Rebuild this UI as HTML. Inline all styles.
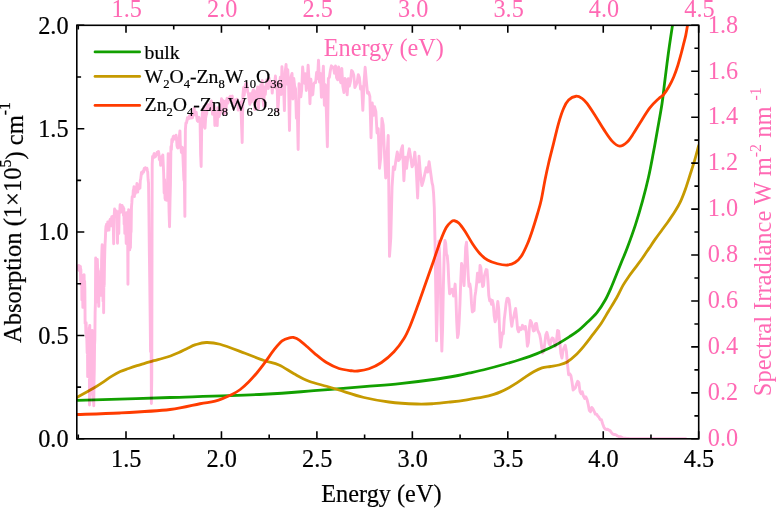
<!DOCTYPE html><html><head><meta charset="utf-8"><title>Absorption</title><style>html,body{margin:0;padding:0;background:#fff}</style></head><body><svg width="776" height="508" viewBox="0 0 776 508" style="display:block;font-family:'Liberation Serif',serif">
<style>text{stroke-width:.2px}text[fill="#ff69b4"]{stroke-width:0}</style>
<rect width="776" height="508" fill="#fff"/>
<defs><clipPath id="c"><rect x="76.8" y="25.3" width="621.9000000000001" height="413.5"/></clipPath></defs>
<g clip-path="url(#c)" fill="none" stroke-linejoin="round" stroke-linecap="round">
<path d="M77.50,400.30 C92.92,399.83 138.92,398.51 170.00,397.50 C201.08,396.49 240.00,395.38 264.00,394.25 C288.00,393.12 297.33,391.97 314.00,390.70 C330.67,389.43 349.67,387.78 364.00,386.60 C378.33,385.42 388.42,384.78 400.00,383.60 C411.58,382.42 423.83,380.85 433.50,379.50 C443.17,378.15 451.92,376.60 458.00,375.50 C464.08,374.40 465.21,373.98 470.00,372.90 C474.79,371.82 481.17,370.40 486.75,369.00 C492.33,367.60 497.92,366.08 503.50,364.50 C509.08,362.92 514.67,361.32 520.25,359.50 C525.83,357.68 531.42,355.83 537.00,353.60 C542.58,351.37 548.17,349.03 553.75,346.10 C559.33,343.17 566.31,338.66 570.50,336.00 C574.69,333.34 576.33,332.19 578.90,330.15 C581.47,328.11 582.92,326.62 585.90,323.75 C588.88,320.88 593.55,316.81 596.75,312.90 C599.95,308.99 602.59,304.77 605.10,300.30 C607.61,295.83 609.84,290.52 611.80,286.05 C613.76,281.58 615.17,277.68 616.85,273.50 C618.53,269.32 620.19,265.15 621.90,260.95 C623.61,256.75 624.83,254.36 627.10,248.30 C629.37,242.24 632.92,232.50 635.50,224.60 C638.08,216.70 640.38,208.78 642.55,200.90 C644.72,193.02 646.73,185.18 648.50,177.30 C650.27,169.42 651.71,161.48 653.20,153.60 C654.69,145.72 655.98,138.31 657.45,130.00 C658.92,121.69 660.83,111.47 662.00,103.75 C663.17,96.03 663.67,90.35 664.50,83.65 C665.33,76.95 666.17,69.97 667.00,63.55 C667.83,57.12 668.60,51.38 669.50,45.10 C670.40,38.83 671.60,31.25 672.40,25.90 C673.20,20.55 673.98,15.15 674.30,13.00" stroke="#12a000" stroke-width="2.8"/>
<path d="M76.70,397.50 C78.38,396.58 83.68,393.70 86.75,392.00 C89.82,390.30 92.31,388.98 95.10,387.30 C97.89,385.62 100.70,383.77 103.50,381.90 C106.30,380.03 109.11,377.83 111.90,376.10 C114.69,374.37 117.47,372.77 120.25,371.50 C123.03,370.23 125.81,369.47 128.60,368.50 C131.39,367.53 134.20,366.58 137.00,365.70 C139.80,364.82 142.61,364.04 145.40,363.20 C148.19,362.36 150.97,361.43 153.75,360.65 C156.53,359.87 159.31,359.27 162.10,358.50 C164.89,357.73 167.70,356.98 170.50,356.00 C173.30,355.02 176.11,353.87 178.90,352.60 C181.69,351.33 184.47,349.72 187.25,348.40 C190.03,347.08 192.43,345.68 195.60,344.70 C198.77,343.72 202.18,342.57 206.25,342.50 C210.32,342.43 213.54,342.46 220.00,344.25 C226.46,346.04 237.67,350.54 245.00,353.25 C252.33,355.96 258.33,358.54 264.00,360.50 C269.67,362.46 274.00,362.79 279.00,365.00 C284.00,367.21 289.00,371.04 294.00,373.75 C299.00,376.46 303.58,379.17 309.00,381.25 C314.42,383.33 321.50,384.79 326.50,386.25 C331.50,387.71 332.75,388.12 339.00,390.00 C345.25,391.88 355.67,395.50 364.00,397.50 C372.33,399.50 380.21,400.92 389.00,402.00 C397.79,403.08 409.33,403.73 416.75,404.00 C424.17,404.27 427.92,403.98 433.50,403.65 C439.08,403.32 444.67,402.64 450.25,402.00 C455.83,401.36 461.42,400.64 467.00,399.80 C472.58,398.96 479.28,397.85 483.75,396.95 C488.22,396.05 491.01,395.24 493.80,394.40 C496.59,393.56 497.98,393.02 500.50,391.90 C503.02,390.78 506.11,389.23 508.90,387.70 C511.69,386.17 514.52,384.47 517.25,382.70 C519.98,380.93 522.57,378.88 525.30,377.05 C528.03,375.22 530.87,373.23 533.65,371.70 C536.43,370.17 539.21,368.72 542.00,367.85 C544.79,366.98 547.60,366.98 550.40,366.50 C553.20,366.02 556.01,365.75 558.80,365.00 C561.59,364.25 564.37,363.62 567.15,362.00 C569.93,360.38 572.71,357.96 575.50,355.30 C578.29,352.64 581.10,349.40 583.90,346.05 C586.70,342.70 589.46,338.92 592.30,335.20 C595.14,331.48 598.25,327.75 600.95,323.75 C603.65,319.75 605.91,315.49 608.50,311.20 C611.09,306.91 614.08,302.30 616.50,298.00 C618.92,293.70 620.83,289.15 623.00,285.40 C625.17,281.65 627.33,278.60 629.50,275.50 C631.67,272.40 633.83,269.72 636.00,266.80 C638.17,263.88 640.33,261.07 642.50,258.00 C644.67,254.93 646.84,251.58 649.00,248.40 C651.16,245.22 653.29,241.97 655.45,238.90 C657.61,235.83 659.79,232.95 661.95,230.00 C664.11,227.05 666.24,224.27 668.40,221.20 C670.56,218.13 672.91,214.82 674.90,211.60 C676.89,208.38 678.62,205.58 680.35,201.90 C682.08,198.22 683.72,193.90 685.30,189.50 C686.88,185.10 688.31,180.30 689.85,175.50 C691.39,170.70 693.07,165.70 694.55,160.70 C696.02,155.70 698.01,148.03 698.70,145.50" stroke="#c69a00" stroke-width="2.8"/>
<path d="M77.50,414.50 C84.58,414.25 104.58,413.83 120.00,413.00 C135.42,412.17 156.67,411.04 170.00,409.50 C183.33,407.96 192.48,405.13 200.00,403.75 C207.52,402.37 209.78,402.74 215.10,401.20 C220.42,399.66 227.71,396.45 231.90,394.50 C236.09,392.55 237.47,391.58 240.25,389.50 C243.03,387.42 245.81,384.79 248.60,382.00 C251.39,379.21 254.20,376.10 257.00,372.75 C259.80,369.40 262.61,365.67 265.40,361.90 C268.19,358.13 270.97,353.65 273.75,350.15 C276.53,346.65 279.31,342.99 282.10,340.90 C284.89,338.81 288.54,338.15 290.50,337.60 C292.46,337.05 292.45,337.23 293.85,337.60 C295.25,337.97 296.67,338.27 298.90,339.80 C301.13,341.33 304.47,344.38 307.25,346.80 C310.03,349.22 312.39,351.68 315.60,354.30 C318.81,356.92 322.60,360.13 326.50,362.50 C330.40,364.87 334.83,367.12 339.00,368.50 C343.17,369.88 348.38,370.33 351.50,370.75 C354.62,371.17 354.83,371.33 357.75,371.00 C360.67,370.67 365.04,370.17 369.00,368.75 C372.96,367.33 377.33,365.33 381.50,362.50 C385.67,359.67 390.25,355.75 394.00,351.75 C397.75,347.75 401.25,342.96 404.00,338.50 C406.75,334.04 408.17,330.58 410.50,325.00 C412.83,319.42 415.50,311.88 418.00,305.00 C420.50,298.12 423.00,290.83 425.50,283.75 C428.00,276.67 430.53,269.58 433.00,262.50 C435.47,255.42 438.09,247.08 440.30,241.25 C442.51,235.42 444.43,230.75 446.25,227.50 C448.07,224.25 449.88,222.88 451.25,221.75 C452.62,220.62 453.25,220.54 454.50,220.75 C455.75,220.96 457.00,221.25 458.75,223.00 C460.50,224.75 462.71,227.79 465.00,231.25 C467.29,234.71 470.00,240.00 472.50,243.75 C475.00,247.50 477.50,251.04 480.00,253.75 C482.50,256.46 484.58,258.33 487.50,260.00 C490.42,261.67 494.17,262.92 497.50,263.75 C500.83,264.58 504.58,265.21 507.50,265.00 C510.42,264.79 512.71,263.96 515.00,262.50 C517.29,261.04 519.17,259.38 521.25,256.25 C523.33,253.12 525.62,248.12 527.50,243.75 C529.38,239.38 530.83,235.00 532.50,230.00 C534.17,225.00 536.04,218.75 537.50,213.75 C538.96,208.75 540.00,205.62 541.25,200.00 C542.50,194.38 543.79,186.04 545.00,180.00 C546.21,173.96 547.08,169.81 548.50,163.75 C549.92,157.69 551.83,150.35 553.50,143.65 C555.17,136.95 556.83,129.41 558.50,123.55 C560.17,117.69 561.87,112.41 563.55,108.50 C565.23,104.59 566.51,102.14 568.60,100.10 C570.69,98.06 573.87,96.53 576.10,96.25 C578.33,95.97 580.18,97.20 582.00,98.40 C583.82,99.60 584.77,100.52 587.00,103.45 C589.23,106.38 592.61,111.67 595.40,116.00 C598.19,120.33 600.97,125.22 603.75,129.40 C606.53,133.58 609.44,138.30 612.10,141.10 C614.76,143.90 617.18,146.05 619.70,146.20 C622.22,146.35 624.83,144.23 627.20,142.00 C629.57,139.77 631.67,136.15 633.90,132.80 C636.13,129.45 637.92,126.10 640.60,121.90 C643.28,117.70 647.00,111.47 650.00,107.60 C653.00,103.73 656.33,100.88 658.60,98.70 C660.88,96.52 661.97,96.45 663.65,94.50 C665.33,92.55 667.03,89.92 668.70,87.00 C670.38,84.08 672.17,80.58 673.70,76.95 C675.23,73.32 676.65,69.11 677.90,65.20 C679.15,61.29 680.23,57.12 681.20,53.50 C682.18,49.88 682.98,46.52 683.75,43.45 C684.52,40.38 685.19,38.03 685.80,35.10 C686.41,32.17 686.78,29.58 687.40,25.90 C688.02,22.22 689.15,15.15 689.50,13.00" stroke="#ff3c00" stroke-width="2.8"/>
<path d="M77.27,269.13 L77.51,269.07 L77.75,268.87 L77.99,266.77 L78.22,266.10 L78.46,265.57 L78.70,269.43 L78.94,266.27 L79.18,265.69 L79.43,270.58 L79.67,266.72 L79.91,270.04 L80.15,268.97 L80.40,266.32 L80.64,280.71 L80.88,269.42 L81.13,285.20 L81.37,279.79 L81.62,274.92 L81.87,299.89 L82.11,292.20 L82.36,297.50 L82.61,292.09 L82.86,307.42 L83.10,303.29 L83.35,306.64 L83.60,299.48 L83.85,280.83 L84.10,274.79 L84.36,293.02 L84.61,281.16 L84.86,289.00 L85.11,323.39 L85.37,323.31 L85.62,323.08 L85.87,333.45 L86.13,322.78 L86.38,337.32 L86.64,332.85 L86.90,342.17 L87.15,352.92 L87.41,332.90 L87.67,376.62 L87.93,363.40 L88.19,360.43 L88.45,341.37 L88.71,359.86 L88.97,377.03 L89.23,327.66 L89.49,404.97 L89.76,325.33 L90.02,375.80 L90.28,353.55 L90.55,394.09 L90.81,354.21 L91.08,373.15 L91.34,374.86 L91.61,345.69 L91.88,353.35 L92.14,330.41 L92.41,347.17 L92.68,392.72 L92.95,401.27 L93.22,401.72 L93.49,381.18 L93.76,405.77 L94.03,381.73 L94.30,369.69 L94.58,344.80 L94.85,339.54 L95.12,312.16 L95.40,303.34 L95.67,257.91 L95.95,277.23 L96.23,275.44 L96.50,273.06 L96.78,267.65 L97.06,277.93 L97.34,259.50 L97.62,267.85 L97.90,269.09 L98.18,302.64 L98.46,271.06 L98.74,306.37 L99.02,282.97 L99.31,294.88 L99.59,294.46 L99.87,280.54 L100.16,285.33 L100.44,295.30 L100.73,277.00 L101.02,288.98 L101.30,292.11 L101.59,260.63 L101.88,251.10 L102.17,244.78 L102.46,280.55 L102.75,285.37 L103.04,301.12 L103.33,268.21 L103.63,312.75 L103.92,273.91 L104.21,285.88 L104.51,263.63 L104.80,251.90 L105.10,243.24 L105.40,238.19 L105.69,230.03 L105.99,226.11 L106.29,226.55 L106.59,224.11 L106.89,226.93 L107.19,229.61 L107.49,230.32 L107.79,221.89 L108.09,224.46 L108.40,225.33 L108.70,224.60 L109.01,230.07 L109.31,222.96 L109.62,223.65 L109.92,220.02 L110.23,219.15 L110.54,219.93 L110.85,225.88 L111.16,222.76 L111.47,218.91 L111.78,216.69 L112.09,219.67 L112.40,216.53 L112.72,220.66 L113.03,218.45 L113.34,228.50 L113.66,243.77 L113.97,217.52 L114.29,213.87 L114.61,208.96 L114.93,210.34 L115.25,212.11 L115.57,211.80 L115.89,210.98 L116.21,210.92 L116.53,210.99 L116.85,215.24 L117.18,229.06 L117.50,243.28 L117.82,217.15 L118.15,216.14 L118.48,214.84 L118.80,233.49 L119.13,212.30 L119.46,210.88 L119.79,210.98 L120.12,204.78 L120.45,205.29 L120.78,212.22 L121.12,207.86 L121.45,209.76 L121.78,206.76 L122.12,205.47 L122.45,208.78 L122.79,209.31 L123.13,206.96 L123.47,215.43 L123.81,208.34 L124.15,224.21 L124.49,219.07 L124.83,233.37 L125.17,226.56 L125.51,228.37 L125.86,225.32 L126.20,243.58 L126.55,212.60 L126.89,224.28 L127.24,216.12 L127.59,224.00 L127.94,284.26 L128.29,220.20 L128.64,209.62 L128.99,240.81 L129.34,230.86 L129.70,249.83 L130.05,243.12 L130.41,247.63 L130.76,233.15 L131.12,231.23 L131.48,207.10 L131.83,202.92 L132.19,196.83 L132.55,196.24 L132.92,196.49 L133.28,190.22 L133.64,189.34 L134.00,186.70 L134.37,196.56 L134.73,191.11 L135.10,193.99 L135.47,189.41 L135.84,189.71 L136.21,192.42 L136.58,188.29 L136.95,183.33 L137.32,188.10 L137.69,192.03 L138.07,187.67 L138.44,186.75 L138.82,188.98 L139.20,187.19 L139.57,184.77 L139.95,188.17 L140.33,180.20 L140.71,179.10 L141.09,175.77 L141.48,172.51 L141.86,172.64 L142.24,173.79 L142.63,172.00 L143.02,170.90 L143.40,172.16 L143.79,171.50 L144.18,168.53 L144.57,169.73 L144.96,169.40 L145.36,167.77 L145.75,168.39 L146.15,168.39 L146.54,168.39 L146.94,168.23 L147.34,170.35 L147.73,172.14 L148.13,179.72 L148.53,182.94 L148.94,215.01 L149.34,251.67 L149.74,281.21 L150.15,315.03 L150.55,351.62 L150.96,280.83 L151.37,403.43 L151.78,377.68 L152.19,164.40 L152.60,156.36 L153.01,158.06 L153.43,157.80 L153.84,154.33 L154.26,153.49 L154.67,157.02 L155.09,155.55 L155.51,156.56 L155.93,155.30 L156.35,154.93 L156.77,153.92 L157.20,152.18 L157.62,152.34 L158.05,151.72 L158.48,151.58 L158.90,153.83 L159.33,159.62 L159.76,159.73 L160.20,158.65 L160.63,165.32 L161.06,156.95 L161.50,162.24 L161.93,161.78 L162.37,159.04 L162.81,154.93 L163.25,164.01 L163.69,173.84 L164.13,192.93 L164.58,179.56 L165.02,198.37 L165.47,199.89 L165.91,189.55 L166.36,190.40 L166.81,200.35 L167.26,196.33 L167.72,175.91 L168.17,153.78 L168.62,189.30 L169.08,212.41 L169.54,226.73 L170.00,202.28 L170.46,184.47 L170.92,146.69 L171.38,149.65 L171.84,139.49 L172.31,142.04 L172.77,138.53 L173.24,136.60 L173.71,136.14 L174.18,137.98 L174.65,139.06 L175.12,138.09 L175.60,136.85 L176.07,135.25 L176.55,138.37 L177.03,145.97 L177.51,147.65 L177.99,147.99 L178.47,144.23 L178.96,142.04 L179.44,135.75 L179.93,130.90 L180.42,147.42 L180.90,146.73 L181.40,152.47 L181.89,149.14 L182.38,147.31 L182.88,155.48 L183.37,167.25 L183.87,179.72 L184.37,181.37 L184.87,216.37 L185.37,130.10 L185.88,122.98 L186.38,123.18 L186.89,121.09 L187.40,117.63 L187.91,119.14 L188.42,117.90 L188.93,118.41 L189.44,115.67 L189.96,117.40 L190.48,114.43 L191.00,118.15 L191.52,115.49 L192.04,115.03 L192.56,117.83 L193.09,113.31 L193.61,112.69 L194.14,108.14 L194.67,113.74 L195.20,114.85 L195.73,112.53 L196.27,112.27 L196.80,117.95 L197.34,120.77 L197.88,121.35 L198.42,118.73 L198.96,117.37 L199.51,119.37 L200.05,120.52 L200.60,154.11 L201.15,166.56 L201.70,128.70 L202.25,113.67 L202.81,110.04 L203.36,120.15 L203.92,106.92 L204.48,126.52 L205.04,128.24 L205.61,118.29 L206.17,115.21 L206.74,113.74 L207.30,104.16 L207.87,106.58 L208.45,105.13 L209.02,108.55 L209.59,109.19 L210.17,109.38 L210.75,102.35 L211.33,100.95 L211.91,103.18 L212.50,114.25 L213.08,106.67 L213.67,110.66 L214.26,105.52 L214.85,125.50 L215.45,113.49 L216.04,118.93 L216.64,114.57 L217.24,125.67 L217.84,107.61 L218.44,116.91 L219.05,116.59 L219.65,114.48 L220.26,113.40 L220.87,111.01 L221.49,98.77 L222.10,100.21 L222.72,100.35 L223.34,101.94 L223.96,114.25 L224.58,110.07 L225.20,101.18 L225.83,113.15 L226.46,102.92 L227.09,98.10 L227.72,103.15 L228.36,101.43 L229.00,99.98 L229.64,97.39 L230.28,96.26 L230.92,98.31 L231.57,96.63 L232.21,96.03 L232.86,101.94 L233.52,108.92 L234.17,103.89 L234.83,99.89 L235.48,103.27 L236.15,103.24 L236.81,99.09 L237.47,100.07 L238.14,110.11 L238.81,105.91 L239.48,104.30 L240.16,109.06 L240.83,101.98 L241.51,123.87 L242.19,142.60 L242.88,95.73 L243.56,87.76 L244.25,95.30 L244.94,86.77 L245.63,83.93 L246.33,83.21 L247.03,86.87 L247.73,92.17 L248.43,93.76 L249.13,99.50 L249.84,104.32 L250.55,93.69 L251.26,102.17 L251.98,99.34 L252.69,91.48 L253.41,89.67 L254.14,91.14 L254.86,109.59 L255.59,98.44 L256.32,98.65 L257.05,90.08 L257.78,86.87 L258.52,108.60 L259.26,89.60 L260.01,91.78 L260.75,84.84 L261.50,97.73 L262.25,80.55 L263.00,100.19 L263.76,106.09 L264.52,87.10 L265.28,94.49 L266.04,85.81 L266.81,79.65 L267.58,81.60 L268.35,88.47 L269.13,78.21 L269.91,85.44 L270.69,85.05 L271.47,82.27 L272.26,93.09 L273.05,82.96 L273.84,87.53 L274.64,84.22 L275.43,76.02 L276.23,88.34 L277.04,82.48 L277.85,111.42 L278.66,98.24 L279.47,86.13 L280.29,77.26 L281.11,94.47 L281.93,66.67 L282.75,81.93 L283.58,87.28 L284.41,110.62 L285.25,71.29 L286.09,64.54 L286.93,83.97 L287.77,69.61 L288.62,86.02 L289.47,130.58 L290.32,86.38 L291.18,76.28 L292.04,73.43 L292.90,99.06 L293.77,78.37 L294.64,86.27 L295.51,88.80 L296.39,118.18 L297.27,107.93 L298.16,149.49 L299.04,83.76 L299.93,87.00 L300.83,96.86 L301.73,89.48 L302.63,66.97 L303.53,76.55 L304.44,83.17 L305.35,73.70 L306.27,90.43 L307.19,81.35 L308.11,65.18 L309.03,79.63 L309.96,103.70 L310.90,79.22 L311.83,95.00 L312.78,94.72 L313.72,83.86 L314.67,82.57 L315.62,82.52 L316.58,72.53 L317.54,78.69 L318.50,60.10 L319.47,82.16 L320.44,73.47 L321.42,97.23 L322.40,80.55 L323.38,66.10 L324.37,105.27 L325.36,84.73 L326.36,111.65 L327.36,146.69 L328.36,78.53 L329.37,77.36 L330.38,70.37 L331.40,65.82 L332.42,67.18 L333.44,67.09 L334.47,73.17 L335.51,65.96 L336.55,77.58 L337.59,79.72 L338.64,66.99 L339.69,78.80 L340.74,82.75 L341.80,68.35 L342.87,86.61 L343.94,92.45 L345.01,78.55 L346.09,80.00 L347.17,94.84 L348.26,78.76 L349.35,86.18 L350.45,81.72 L351.55,70.53 L352.66,71.82 L353.77,75.22 L354.88,87.53 L356.00,85.23 L357.13,82.41 L358.26,74.60 L359.40,77.58 L360.54,89.07 L361.68,86.52 L362.83,110.37 L363.99,83.14 L365.15,67.27 L366.32,80.55 L367.49,93.18 L368.67,92.36 L369.85,96.44 L371.03,137.68 L372.23,102.97 L373.43,115.26 L374.63,106.78 L375.84,111.45 L377.05,132.97 L378.27,128.70 L379.50,168.30 L380.73,157.67 L381.96,118.50 L383.21,125.02 L384.45,152.75 L385.71,178.02 L386.97,156.52 L388.23,135.41 L389.50,256.41 L390.78,237.88 L392.06,186.96 L393.35,166.83 L394.65,169.47 L395.95,160.03 L397.26,151.92 L398.57,160.45 L399.89,158.91 L401.22,149.74 L402.55,145.74 L403.89,180.78 L405.23,157.21 L406.58,168.26 L407.94,155.97 L409.31,148.80 L410.68,157.21 L412.05,166.76 L413.44,163.80 L414.83,152.15 L416.23,169.15 L417.63,197.94 L419.04,156.26 L420.46,174.30 L421.89,185.51 L423.32,180.89 L424.76,174.37 L426.21,167.70 L427.66,172.02 L429.12,161.73 L430.59,172.25 L432.06,182.87 L432.80,185.62 L433.55,193.16 L434.29,207.49 L435.04,242.96 L435.79,294.20 L436.54,340.89 L437.29,312.41 L438.04,265.00 L438.80,241.15 L439.55,253.25 L440.31,281.70 L441.07,324.93 L441.84,351.16 L442.60,328.59 L443.37,286.59 L444.14,256.19 L444.91,240.45 L445.68,243.22 L446.46,254.17 L447.24,255.71 L448.01,264.28 L448.80,281.34 L449.58,293.76 L450.36,292.74 L451.15,291.31 L451.94,289.14 L452.73,290.47 L453.52,296.14 L454.32,290.94 L455.12,284.07 L455.92,297.84 L456.72,321.72 L457.52,337.61 L458.33,334.28 L459.14,322.19 L459.95,304.00 L460.76,280.67 L461.57,263.33 L462.39,266.34 L463.21,277.82 L464.03,285.61 L464.85,267.91 L465.67,247.17 L466.50,242.17 L467.33,256.27 L468.16,275.18 L469.00,286.29 L469.83,283.78 L470.67,289.11 L471.51,303.42 L472.35,311.93 L473.20,310.98 L474.05,310.65 L474.90,296.63 L475.75,291.20 L476.60,283.87 L477.46,273.28 L478.32,279.52 L479.18,281.99 L480.04,265.34 L480.91,267.73 L481.77,279.57 L482.64,286.47 L483.52,285.44 L484.39,275.89 L485.27,272.75 L486.15,269.59 L487.03,269.88 L487.92,281.15 L488.80,295.55 L489.69,300.83 L490.58,299.52 L491.48,304.32 L492.38,300.53 L493.28,304.39 L494.18,316.08 L495.08,321.74 L495.99,319.29 L496.90,308.94 L497.81,301.39 L498.72,308.89 L499.64,330.94 L500.56,347.08 L501.48,340.01 L502.41,332.63 L503.33,333.88 L504.26,319.48 L505.20,311.56 L506.13,303.20 L507.07,298.35 L508.01,298.31 L508.95,299.82 L509.90,307.33 L510.85,319.25 L511.80,326.32 L512.75,319.82 L513.71,317.00 L514.67,312.06 L515.63,308.45 L516.59,317.51 L517.56,328.98 L518.53,331.83 L519.50,327.76 L520.48,329.66 L521.46,329.28 L522.44,325.31 L523.42,327.02 L524.41,329.04 L525.40,326.39 L526.39,333.36 L527.39,346.21 L528.39,342.68 L529.39,327.13 L530.40,320.52 L531.40,322.18 L532.41,326.39 L533.43,330.98 L534.44,330.51 L535.46,323.78 L536.48,323.53 L537.51,329.81 L538.54,332.31 L539.57,334.21 L540.60,339.08 L541.64,346.79 L542.68,352.93 L543.72,351.01 L544.77,343.42 L545.82,334.71 L546.87,332.24 L547.93,336.55 L548.99,343.47 L550.05,345.25 L551.12,340.15 L552.19,337.91 L553.26,338.59 L554.33,342.76 L555.41,346.31 L556.49,340.48 L557.58,330.51 L558.67,331.11 L559.76,341.78 L560.85,353.43 L561.95,358.13 L563.05,350.44 L564.16,347.36 L565.27,345.25 L566.38,351.23 L567.49,364.29 L568.61,374.72 L569.74,373.74 L570.86,375.54 L571.99,381.69 L573.12,390.04 L574.26,388.93 L575.40,387.79 L576.54,384.03 L577.69,381.31 L578.84,382.46 L579.99,391.64 L581.15,393.80 L582.31,391.78 L583.48,396.09 L584.64,398.38 L585.82,396.89 L586.99,399.38 L588.17,404.26 L589.35,410.43 L590.54,411.61 L591.73,407.50 L592.93,408.80 L594.13,411.30 L595.33,414.09 L596.53,414.14 L597.74,416.06 L598.96,417.35 L600.17,419.48 L601.40,419.75 L602.62,423.74 L603.85,427.10 L605.08,428.85 L606.32,429.49 L607.56,429.28 L608.81,430.11 L610.06,430.61 L611.31,432.40 L612.57,433.95 L613.83,434.53 L615.10,434.50 L616.37,435.02 L617.64,436.05 L618.92,436.62 L620.20,436.74 L621.49,437.17 L622.78,437.82 L624.08,438.13 L625.38,438.18 L626.68,438.36 L627.99,438.51 L629.30,438.57 L630.62,438.60 L631.94,438.69 L633.27,438.72 L634.60,438.73 L635.93,438.76 L637.27,438.78 L638.61,438.78 L639.96,438.79 L641.32,438.79 L642.67,438.80 L644.04,438.80 L645.40,438.80 L646.77,438.80 L648.15,438.80 L649.53,438.80 L650.92,438.80 L652.31,438.80 L653.70,438.80 L655.10,438.80 L656.51,438.80 L657.92,438.80 L659.33,438.80 L660.75,438.80 L662.17,438.80 L663.60,438.80 L665.04,438.80 L666.48,438.80 L667.92,438.80 L669.37,438.80 L670.83,438.80 L672.28,438.80 L673.75,438.80 L675.22,438.80 L676.69,438.80 L678.17,438.80 L679.66,438.80 L681.15,438.80 L682.65,438.80 L684.15,438.80 L685.66,438.80" stroke="#ffb9e1" stroke-width="2.9" style="mix-blend-mode:multiply"/>
</g>
<g stroke="#000" stroke-width="1.6" fill="none">
<rect x="76.8" y="25.3" width="621.9000000000001" height="413.5"/>
<path d="M78.28,438.8v-4.3M78.28,25.3v4.3M126.00,438.8v-7.5M126.00,25.3v7.5M173.72,438.8v-4.3M173.72,25.3v4.3M221.45,438.8v-7.5M221.45,25.3v7.5M269.18,438.8v-4.3M269.18,25.3v4.3M316.90,438.8v-7.5M316.90,25.3v7.5M364.62,438.8v-4.3M364.62,25.3v4.3M412.35,438.8v-7.5M412.35,25.3v7.5M460.07,438.8v-4.3M460.07,25.3v4.3M507.80,438.8v-7.5M507.80,25.3v7.5M555.53,438.8v-4.3M555.53,25.3v4.3M603.25,438.8v-7.5M603.25,25.3v7.5M650.98,438.8v-4.3M650.98,25.3v4.3M698.70,438.8v-7.5M698.70,25.3v7.5M76.8,438.80h7.5M76.8,387.11h4.3M76.8,335.43h7.5M76.8,283.74h4.3M76.8,232.05h7.5M76.8,180.36h4.3M76.8,128.68h7.5M76.8,76.99h4.3M76.8,25.30h7.5M698.7,438.80h-7.5M698.7,415.83h-4.3M698.7,392.86h-7.5M698.7,369.88h-4.3M698.7,346.91h-7.5M698.7,323.94h-4.3M698.7,300.97h-7.5M698.7,277.99h-4.3M698.7,255.02h-7.5M698.7,232.05h-4.3M698.7,209.08h-7.5M698.7,186.11h-4.3M698.7,163.13h-7.5M698.7,140.16h-4.3M698.7,117.19h-7.5M698.7,94.22h-4.3M698.7,71.24h-7.5M698.7,48.27h-4.3M698.7,25.30h-7.5"/>
</g>
<text transform="translate(126.30,466.60) scale(1,1.035)" font-size="24.3" text-anchor="middle" fill="#000" stroke="#000">1.5</text>
<text transform="translate(126.80,16.80) scale(1,1.035)" font-size="24.3" text-anchor="middle" fill="#ff69b4" stroke="#ff69b4">1.5</text>
<text transform="translate(221.75,466.60) scale(1,1.035)" font-size="24.3" text-anchor="middle" fill="#000" stroke="#000">2.0</text>
<text transform="translate(222.25,16.80) scale(1,1.035)" font-size="24.3" text-anchor="middle" fill="#ff69b4" stroke="#ff69b4">2.0</text>
<text transform="translate(317.20,466.60) scale(1,1.035)" font-size="24.3" text-anchor="middle" fill="#000" stroke="#000">2.5</text>
<text transform="translate(317.70,16.80) scale(1,1.035)" font-size="24.3" text-anchor="middle" fill="#ff69b4" stroke="#ff69b4">2.5</text>
<text transform="translate(412.65,466.60) scale(1,1.035)" font-size="24.3" text-anchor="middle" fill="#000" stroke="#000">3.0</text>
<text transform="translate(413.15,16.80) scale(1,1.035)" font-size="24.3" text-anchor="middle" fill="#ff69b4" stroke="#ff69b4">3.0</text>
<text transform="translate(508.10,466.60) scale(1,1.035)" font-size="24.3" text-anchor="middle" fill="#000" stroke="#000">3.5</text>
<text transform="translate(508.60,16.80) scale(1,1.035)" font-size="24.3" text-anchor="middle" fill="#ff69b4" stroke="#ff69b4">3.5</text>
<text transform="translate(603.55,466.60) scale(1,1.035)" font-size="24.3" text-anchor="middle" fill="#000" stroke="#000">4.0</text>
<text transform="translate(604.05,16.80) scale(1,1.035)" font-size="24.3" text-anchor="middle" fill="#ff69b4" stroke="#ff69b4">4.0</text>
<text transform="translate(699.00,466.60) scale(1,1.035)" font-size="24.3" text-anchor="middle" fill="#000" stroke="#000">4.5</text>
<text transform="translate(699.50,16.80) scale(1,1.035)" font-size="24.3" text-anchor="middle" fill="#ff69b4" stroke="#ff69b4">4.5</text>
<text transform="translate(68.60,447.10) scale(1,1.035)" font-size="24.3" text-anchor="end" fill="#000" stroke="#000">0.0</text>
<text transform="translate(68.60,343.73) scale(1,1.035)" font-size="24.3" text-anchor="end" fill="#000" stroke="#000">0.5</text>
<text transform="translate(68.60,240.35) scale(1,1.035)" font-size="24.3" text-anchor="end" fill="#000" stroke="#000">1.0</text>
<text transform="translate(68.60,136.98) scale(1,1.035)" font-size="24.3" text-anchor="end" fill="#000" stroke="#000">1.5</text>
<text transform="translate(68.60,33.60) scale(1,1.035)" font-size="24.3" text-anchor="end" fill="#000" stroke="#000">2.0</text>
<text transform="translate(707.80,446.10) scale(1,1.035)" font-size="24.3" text-anchor="start" fill="#ff69b4" stroke="#ff69b4">0.0</text>
<text transform="translate(707.80,400.16) scale(1,1.035)" font-size="24.3" text-anchor="start" fill="#ff69b4" stroke="#ff69b4">0.2</text>
<text transform="translate(707.80,354.21) scale(1,1.035)" font-size="24.3" text-anchor="start" fill="#ff69b4" stroke="#ff69b4">0.4</text>
<text transform="translate(707.80,308.27) scale(1,1.035)" font-size="24.3" text-anchor="start" fill="#ff69b4" stroke="#ff69b4">0.6</text>
<text transform="translate(707.80,262.32) scale(1,1.035)" font-size="24.3" text-anchor="start" fill="#ff69b4" stroke="#ff69b4">0.8</text>
<text transform="translate(707.80,216.38) scale(1,1.035)" font-size="24.3" text-anchor="start" fill="#ff69b4" stroke="#ff69b4">1.0</text>
<text transform="translate(707.80,170.43) scale(1,1.035)" font-size="24.3" text-anchor="start" fill="#ff69b4" stroke="#ff69b4">1.2</text>
<text transform="translate(707.80,124.49) scale(1,1.035)" font-size="24.3" text-anchor="start" fill="#ff69b4" stroke="#ff69b4">1.4</text>
<text transform="translate(707.80,78.54) scale(1,1.035)" font-size="24.3" text-anchor="start" fill="#ff69b4" stroke="#ff69b4">1.6</text>
<text transform="translate(707.80,32.60) scale(1,1.035)" font-size="24.3" text-anchor="start" fill="#ff69b4" stroke="#ff69b4">1.8</text>
<text transform="translate(381.40,502.00) scale(1,1.035)" font-size="24.3" text-anchor="middle" fill="#000" stroke="#000">Energy (eV)</text>
<text transform="translate(383.80,55.80) scale(1,1.035)" font-size="24.3" text-anchor="middle" fill="#ff69b4" stroke="#ff69b4">Energy (eV)</text>
<text transform="translate(20.9,343.0) rotate(-90) scale(1.024,1.03)" font-size="24" text-anchor="start" fill="#000" stroke="#000">Absorption (1×10<tspan font-size="15.6" dy="-10">5</tspan><tspan dy="12.2">) cm</tspan><tspan font-size="15.6" dy="-12.9">-1</tspan></text>
<text transform="translate(770.6,396.2) rotate(-90) scale(1.02,1.03)" font-size="24" text-anchor="start" fill="#ff69b4" stroke="#ff69b4">Spectral Irradiance W m<tspan font-size="15.6" dy="-9.6">-2</tspan><tspan dy="9.6"> nm </tspan><tspan font-size="15.6" dy="-9.6">-1</tspan></text>
<g stroke-width="2.7" stroke-linecap="round">
<path d="M95,51.9H139.7" stroke="#12a000"/>
<path d="M95,76.4H139.7" stroke="#c69a00"/>
<path d="M95,105.4H139.7" stroke="#ff3c00"/>
</g>
<text transform="translate(144.6,58.5) scale(1,1.0)" font-size="19.7" fill="#000" stroke="#000">bulk</text>
<text transform="translate(144.6,82.8) scale(1,1.0)" font-size="19.7" fill="#000" stroke="#000">W<tspan font-size="12.6" dy="5">2</tspan><tspan dy="-5">O</tspan><tspan font-size="12.6" dy="5">4</tspan><tspan dy="-5">-Zn</tspan><tspan font-size="12.6" dy="5">8</tspan><tspan dy="-5">W</tspan><tspan font-size="12.6" dy="5">10</tspan><tspan dy="-5">O</tspan><tspan font-size="12.6" dy="5">36</tspan></text>
<text transform="translate(144.6,111) scale(1,1.0)" font-size="19.7" fill="#000" stroke="#000">Zn<tspan font-size="12.6" dy="5">2</tspan><tspan dy="-5">O</tspan><tspan font-size="12.6" dy="5">4</tspan><tspan dy="-5">-Zn</tspan><tspan font-size="12.6" dy="5">8</tspan><tspan dy="-5">W</tspan><tspan font-size="12.6" dy="5">6</tspan><tspan dy="-5">O</tspan><tspan font-size="12.6" dy="5">28</tspan></text>
</svg></body></html>
